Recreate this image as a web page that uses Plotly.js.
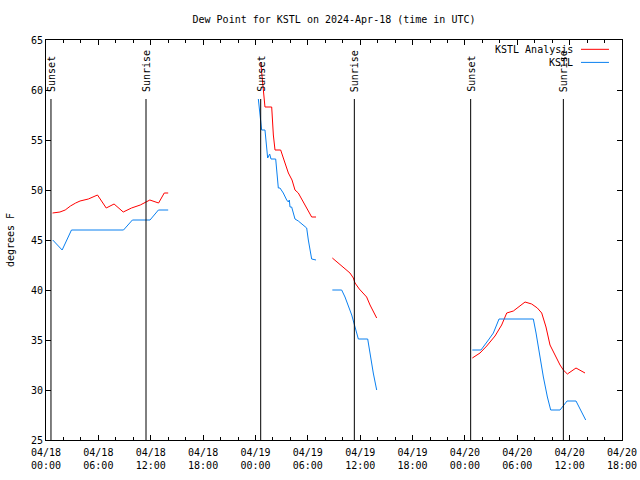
<!DOCTYPE html>
<html><head><meta charset="utf-8">
<script src="https://cdn.plot.ly/plotly-3.0.1.min.js"></script>
<style>html,body{margin:0;padding:0;background:#fff}#chart{width:640px;height:480px}</style>
</head><body><div id="chart"></div>
<script>
// Hours since 2024-04-18 00:00 UTC
const analysisHours = [0.75,1.6,2.2,2.8,3.4,3.9,4.85,5.9,6.9,7.8,8.85,9.8,10.8,11.9,12.9,13.55,14.0,null,
  24.6,25.09,25.86,26.05,26.24,26.89,27.27,27.77,28.19,28.53,28.91,29.68,30.44,30.94,null,
  32.81,33.5,34.07,34.83,35.22,35.41,35.9,36.74,37.13,37.5,37.89,null,
  48.85,49.73,50.5,51.45,52.21,52.79,53.55,54.12,54.89,55.65,56.3,56.8,57.29,57.75,58.32,58.9,59.28,59.74,60.73,61.76];
const analysisDew = [47.7,47.8,48.0,48.4,48.7,48.9,49.1,49.5,48.2,48.6,47.8,48.2,48.5,49.0,48.7,49.7,49.7,null,
  62.8,58.3,58.3,55.5,54.0,54.0,53.0,51.7,51.0,50.0,49.7,48.5,47.3,47.3,null,
  43.2,42.7,42.2,41.7,41.2,40.7,40.1,39.3,38.5,37.8,37.2,null,
  33.2,33.7,34.4,35.4,36.5,37.7,37.9,38.3,38.8,38.6,38.2,37.7,36.3,34.5,33.5,32.5,32.0,31.6,32.2,31.7];
const obsHours = [0.77,1.85,2.92,3.9,4.9,5.9,6.9,7.9,8.88,9.9,10.9,11.92,12.88,14.0,null,
  24.33,24.52,24.71,25.09,25.29,25.4,25.63,25.78,26.32,26.62,26.81,27.19,27.58,27.77,27.88,27.96,28.15,28.34,28.53,28.91,29.87,30.06,30.25,30.44,30.94,null,
  32.81,33.88,34.26,34.64,35.03,35.41,35.79,36.86,37.13,37.5,37.89,null,
  48.85,49.84,50.69,51.26,51.91,55.84,56.15,56.49,56.99,57.45,57.83,58.9,59.7,60.73,61.84];
const obsDew = [45,44,46,46,46,46,46,46,46,47,47,47,48,48,null,
  59.1,57.5,56.0,56.0,53.5,53.2,53.6,53.1,53.1,50.2,50.2,49.7,49.0,48.8,49.0,48.3,48.3,47.7,47.1,46.9,46.2,45.0,43.8,43.1,43.0,null,
  40,40,39.3,38.5,37.5,36.3,35.1,35.1,33.5,31.7,30.0,null,
  34,34,35,35.7,37.1,37.1,35.7,33.8,31.3,29.3,28,28,28.9,28.9,27];
const sunTimes = [0.57,11.46,24.6,35.33,48.66,59.28];
const sunLabels = ["Sunset","Sunrise","Sunset","Sunrise","Sunset","Sunrise"];
const tickHours = [0,6,12,18,24,30,36,42,48,54,60,66];
const tickDates = ["04/18","04/18","04/18","04/18","04/19","04/19","04/19","04/19","04/20","04/20","04/20","04/20"];
const tickTimes = ["00:00","06:00","12:00","18:00","00:00","06:00","12:00","18:00","00:00","06:00","12:00","18:00"];
const seriesNames = ["KSTL Analysis","KSTL"];
const seriesColors = ["#ff0000","#0a80f0"];

const FONT = {family:"DejaVu Sans Mono, monospace", size:10, color:"#000"};

const traces = [
  {x:analysisHours, y:analysisDew, mode:"lines", name:seriesNames[0], line:{color:seriesColors[0], width:1}, connectgaps:false, showlegend:false},
  {x:obsHours, y:obsDew, mode:"lines", name:seriesNames[1], line:{color:seriesColors[1], width:1}, connectgaps:false, showlegend:false}
];

const shapes = sunTimes.map(t => ({type:"line", xref:"x", yref:"y", x0:t, x1:t, y0:25, y1:59.1, line:{color:"#000", width:1}}));
const annotations = sunTimes.map((t,i) => ({x:t, y:59.7, xref:"x", yref:"y", text:sunLabels[i], textangle:-90, showarrow:false, xanchor:"center", yanchor:"bottom", font:FONT, borderpad:0}));

// key
const keyRows = [0.9767, 0.944];
seriesNames.forEach((n,i) => {
  annotations.push({x:0.9167, y:keyRows[i], xref:"paper", yref:"paper", text:n, showarrow:false, xanchor:"right", yanchor:"middle", font:FONT, borderpad:0});
  shapes.push({type:"line", xref:"paper", yref:"paper", x0:0.9288, x1:0.9774, y0:keyRows[i], y1:keyRows[i], line:{color:seriesColors[i], width:1}});
});

const layout = {
  width:640, height:480,
  margin:{l:46, r:18, t:40, b:40},
  paper_bgcolor:"#fff", plot_bgcolor:"#fff",
  font:FONT,
  title:{text:"Dew Point for KSTL on 2024-Apr-18 (time in UTC)", font:FONT, xref:"paper", x:0.5, xanchor:"center", yref:"container", y:1-19/480, yanchor:"middle"},
  xaxis:{range:[0,66], tickvals:tickHours, ticktext:tickDates.map((d,i)=>d+"<br>"+tickTimes[i]),
    ticks:"inside", ticklen:5, tickwidth:1, tickcolor:"#000", showline:true, linecolor:"#000", linewidth:1, mirror:"ticks",
    showgrid:false, zeroline:false, tickfont:FONT, ticklabelstandoff:3,
    minor:{dtick:2, tick0:0, ticks:"inside", ticklen:3, tickwidth:1, tickcolor:"#000", showgrid:false}},
  yaxis:{range:[25,65], dtick:5, tick0:25, ticks:"inside", ticklen:5, tickwidth:1, tickcolor:"#000",
    showline:true, linecolor:"#000", linewidth:1, mirror:"ticks", showgrid:false, zeroline:false, tickfont:FONT,
    title:{text:"degrees F", font:FONT, standoff:14}},
  shapes:shapes, annotations:annotations
};
Plotly.newPlot("chart", traces, layout, {staticPlot:true, displayModeBar:false});
</script></body></html>
